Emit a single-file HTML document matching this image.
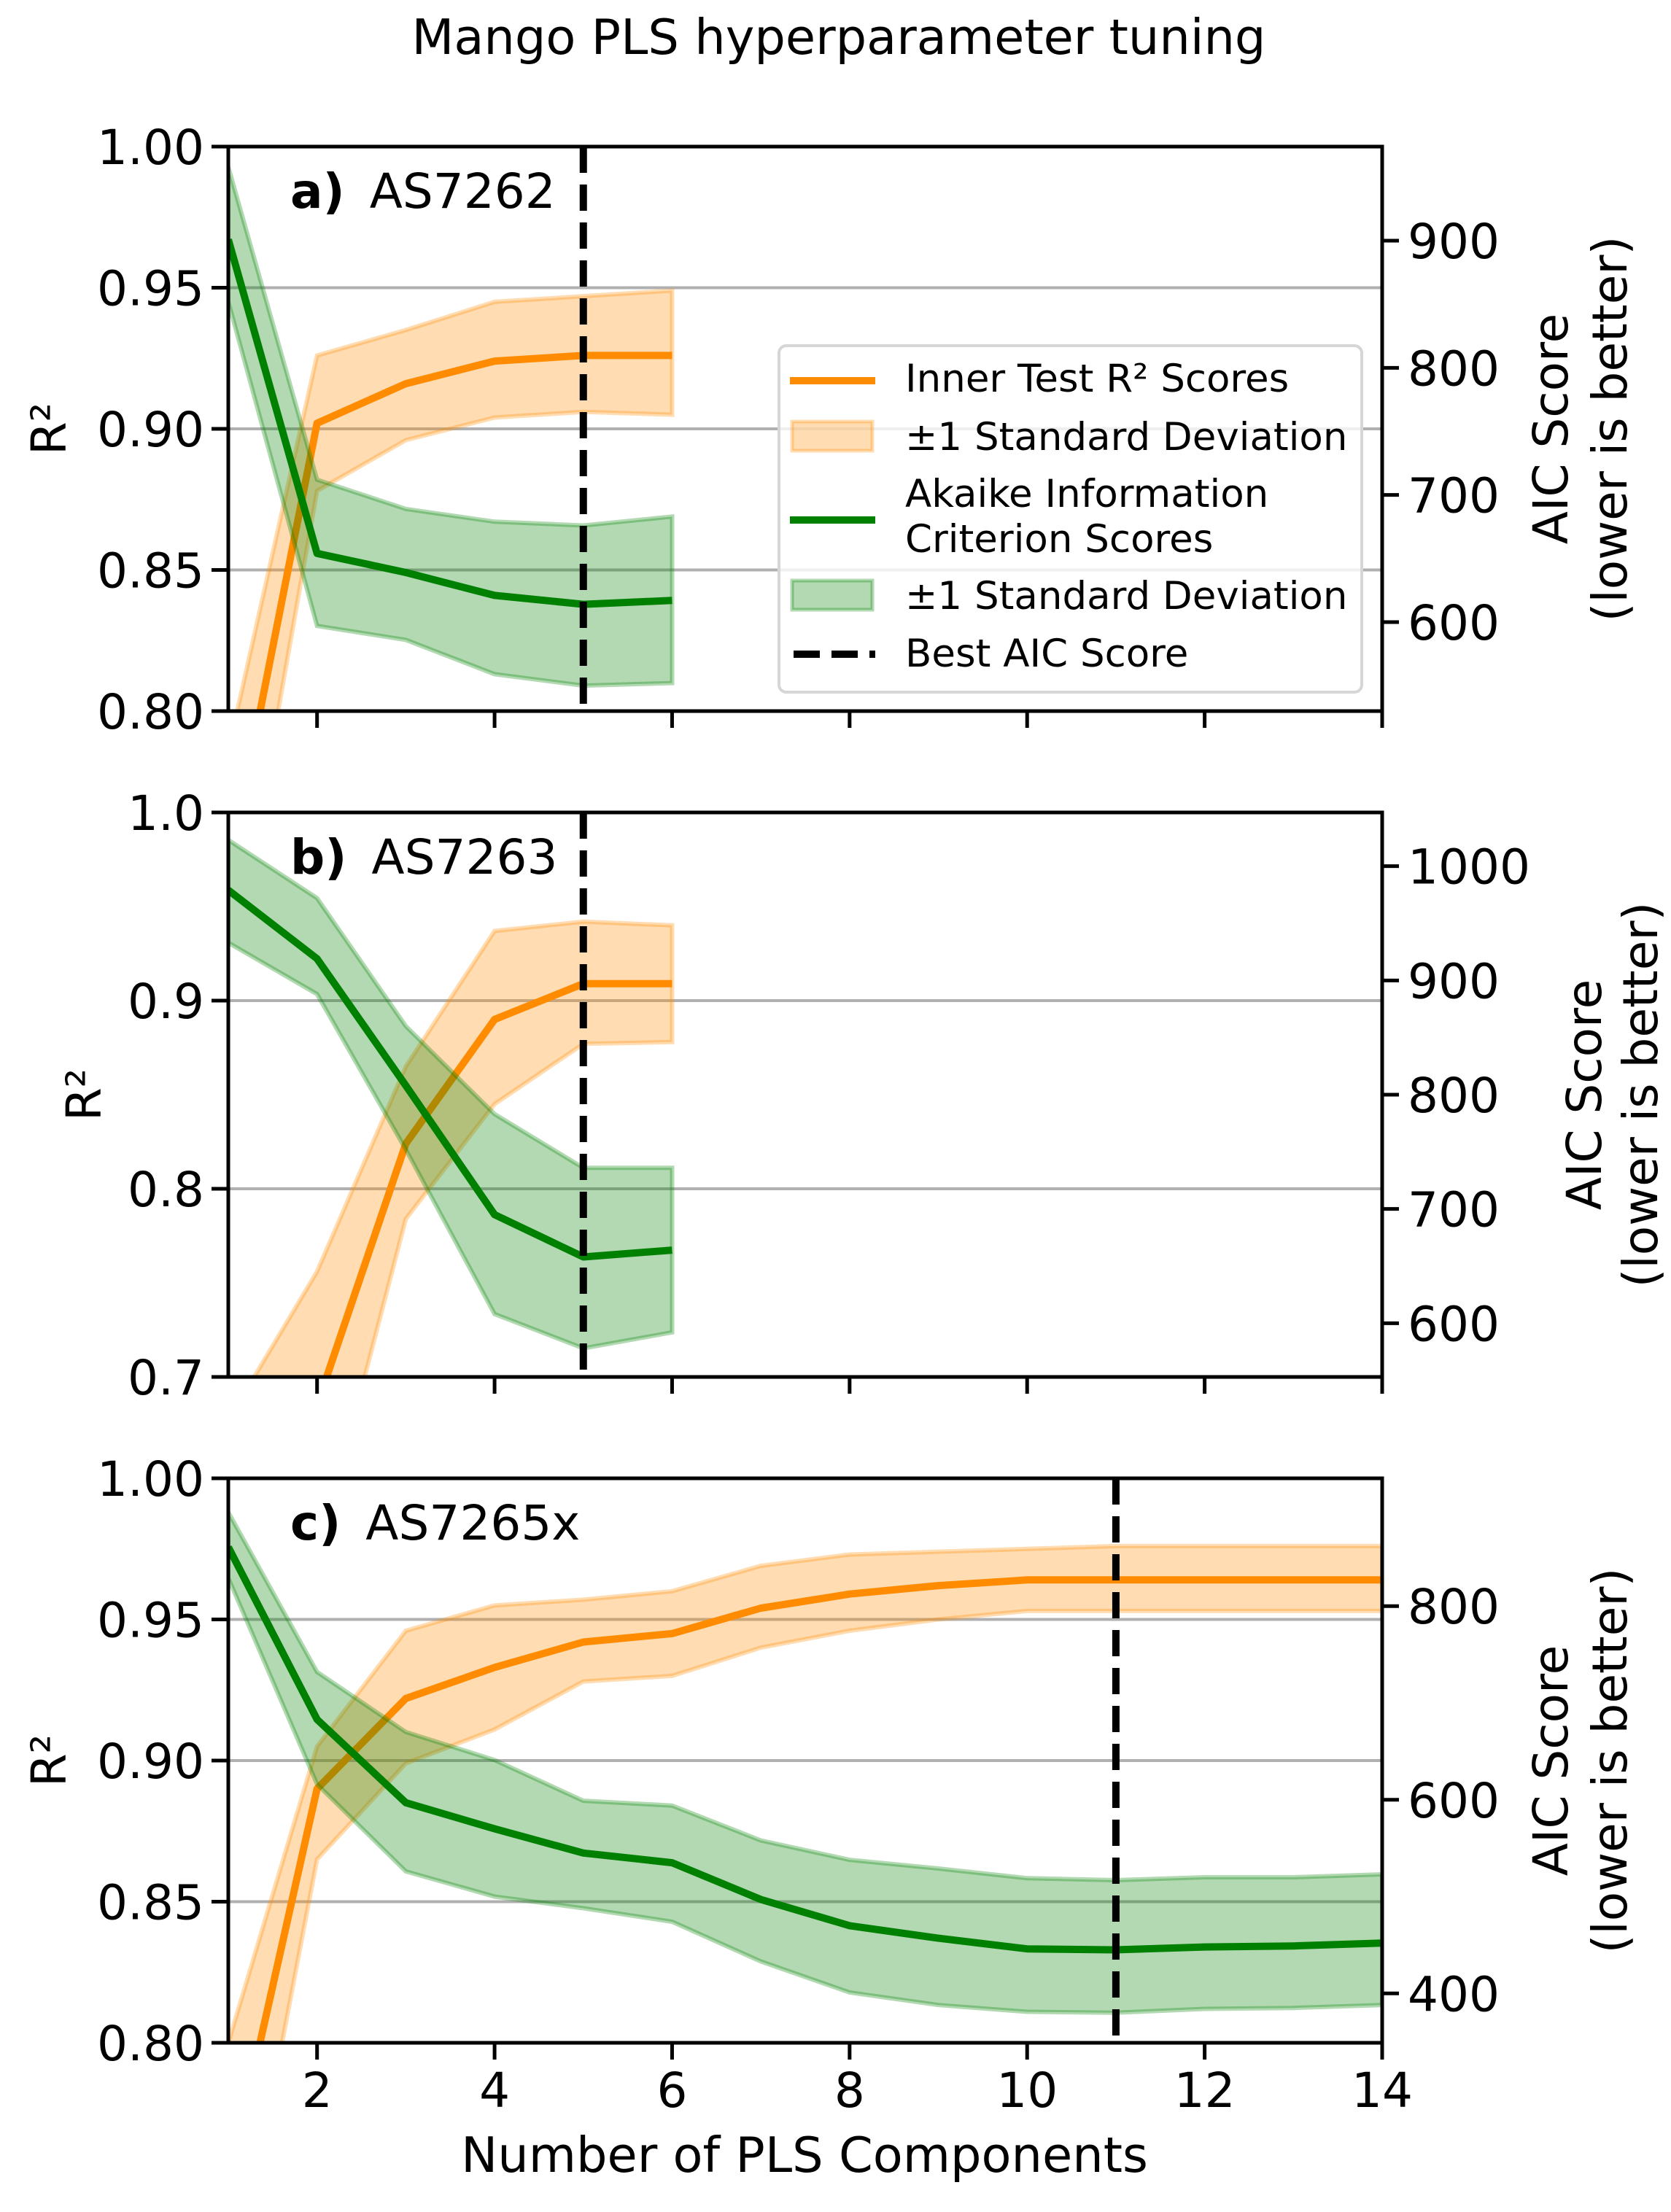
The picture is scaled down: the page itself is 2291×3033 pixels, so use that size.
<!DOCTYPE html>
<html><head><meta charset="utf-8"><style>
html,body{margin:0;padding:0;background:#fff;width:2291px;height:3033px;overflow:hidden}
svg{display:block}
text{font-family:"DejaVu Sans","Liberation Sans",sans-serif;fill:#000}
</style></head>
<body>
<svg id="fig" xmlns="http://www.w3.org/2000/svg" width="2291" height="3033" viewBox="0 0 2291 3033">
<rect width="2291" height="3033" fill="#fff"/>
<text x="1150" y="74" font-size="67" text-anchor="middle">Mango PLS hyperparameter tuning</text>
<g id="panels"></g>
<g id="legend">
  <rect x="1068" y="474" width="799" height="475" rx="10" fill="#fff" fill-opacity="0.8" stroke="#d6d6d6" stroke-width="4"/>
  <line x1="1083" y1="522" x2="1200" y2="522" stroke="#ff8c00" stroke-width="10"/>
  <text x="1241" y="537" font-size="53">Inner Test R² Scores</text>
  <rect x="1086" y="578" width="110" height="40" fill="#ff8c00" fill-opacity="0.3" stroke="#ff8c00" stroke-opacity="0.3" stroke-width="5"/>
  <text x="1241" y="617" font-size="53">±1 Standard Deviation</text>
  <line x1="1083" y1="713" x2="1200" y2="713" stroke="#008000" stroke-width="10"/>
  <text x="1241" y="695" font-size="53">Akaike Information</text>
  <text x="1241" y="757" font-size="53">Criterion Scores</text>
  <rect x="1086" y="796" width="110" height="40" fill="#008000" fill-opacity="0.3" stroke="#008000" stroke-opacity="0.3" stroke-width="5"/>
  <text x="1241" y="835" font-size="53">±1 Standard Deviation</text>
  <line x1="1088" y1="897" x2="1200" y2="897" stroke="#000" stroke-width="10" stroke-dasharray="36,16"/>
  <text x="1241" y="914" font-size="53">Best AIC Score</text>
</g>
<text x="1103" y="2978" font-size="67" text-anchor="middle">Number of PLS Components</text>
</svg>
<script>
// ---- data ----
const xA = [1,2,3,4,5,6];
const r2A = [0.743,0.902,0.916,0.924,0.926,0.926];
const r2A_hi = [0.786,0.926,0.935,0.945,0.947,0.949];
const r2A_lo = [0.700,0.878,0.896,0.904,0.906,0.905];
const aicA = [901,654,639,621,614,617];
const aicA_hi = [958,712,689,679,676,683];
const aicA_lo = [852,597,586,559,550,552];
const bestA = 5;

const xB = [1,2,3,4,5,6];
const r2B = [0.546,0.685,0.824,0.890,0.909,0.909];
const r2B_hi = [0.677,0.756,0.865,0.937,0.942,0.940];
const r2B_lo = [0.420,0.603,0.784,0.845,0.877,0.878];
const aicB = [979,919,808,695,658,664];
const aicB_hi = [1023,972,860,783,736,736];
const aicB_lo = [933,888,752,608,578,592];
const bestB = 5;

const xC = [1,2,3,4,5,6,7,8,9,10,11,12,13,14];
const r2C = [0.750,0.890,0.922,0.933,0.942,0.945,0.954,0.959,0.962,0.964,0.964,0.964,0.964,0.964];
const r2C_hi = [0.800,0.905,0.946,0.955,0.957,0.960,0.969,0.973,0.974,0.975,0.976,0.976,0.976,0.976];
const r2C_lo = [0.700,0.865,0.899,0.911,0.928,0.930,0.940,0.946,0.950,0.953,0.953,0.953,0.953,0.953];
const aicC = [861,683,597,570,545,535,497,470,457,446,445,448,449,452];
const aicC_hi = [897,732,670,641,599,594,558,538,529,519,517,520,520,523];
const aicC_lo = [829,616,526,500,488,474,433,401,388,381,380,384,385,388];
const bestC = 11;

const xTicks = [2,4,6,8,10,12,14];
const r2TicksA = [0.80,0.85,0.90,0.95,1.00];
const r2TickLabelsA = ["0.80","0.85","0.90","0.95","1.00"];
const r2TicksB = [0.7,0.8,0.9,1.0];
const r2TickLabelsB = ["0.7","0.8","0.9","1.0"];
const aicTicksA = [600,700,800,900];
const aicTicksB = [600,700,800,900,1000];
const aicTicksC = [400,600,800];

// ---- layout ----
const L = 313, R = 1895, H = 774, FS = 66;
const NS = "http://www.w3.org/2000/svg";
const root = document.getElementById('panels');
function mk(tag, attrs, parent){
  const e = document.createElementNS(NS, tag);
  for (const k in attrs) e.setAttribute(k, attrs[k]);
  (parent||root).appendChild(e);
  return e;
}
function pts(xs, ys, fx, fy){ return xs.map((x,i)=>fx(x).toFixed(1)+','+fy(ys[i]).toFixed(1)).join(' '); }

const panels = [
  {id:'a', top:201, label:'a)', name:'AS7262', x:xA, r2:r2A, r2hi:r2A_hi, r2lo:r2A_lo, aic:aicA, aichi:aicA_hi, aiclo:aicA_lo, best:bestA,
   r2min:0.8, r2max:1.0, r2t:r2TicksA, r2l:r2TickLabelsA, amin:530, amax:974, at:aicTicksA, ylx:66, rl1:2125, rl2:2206, xlab:false},
  {id:'b', top:1114, label:'b)', name:'AS7263', x:xB, r2:r2B, r2hi:r2B_hi, r2lo:r2B_lo, aic:aicB, aichi:aicB_hi, aiclo:aicB_lo, best:bestB,
   r2min:0.7, r2max:1.0, r2t:r2TicksB, r2l:r2TickLabelsB, amin:553, amax:1047, at:aicTicksB, ylx:114, rl1:2171, rl2:2248, xlab:false},
  {id:'c', top:2027, label:'c)', name:'AS7265x', x:xC, r2:r2C, r2hi:r2C_hi, r2lo:r2C_lo, aic:aicC, aichi:aicC_hi, aiclo:aicC_lo, best:bestC,
   r2min:0.8, r2max:1.0, r2t:r2TicksA, r2l:r2TickLabelsA, amin:349, amax:932, at:aicTicksC, ylx:66, rl1:2125, rl2:2206, xlab:true}
];

panels.forEach(p=>{
  const T = p.top, B = p.top + H;
  const fx = x => L + (x-1)/(14-1)*(R-L);
  const fy = v => B - (v-p.r2min)/(p.r2max-p.r2min)*H;
  const fa = v => B - (v-p.amin)/(p.amax-p.amin)*H;
  const g = mk('g', {});
  
  
  const cp = mk('clipPath', {id:'clip-'+p.id}, g);
  mk('rect', {x:L, y:T, width:R-L, height:H}, cp);
  p.r2t.forEach(t=>{
    if (Math.abs(t-p.r2min)<1e-9 || Math.abs(t-p.r2max)<1e-9) return;
    const l = mk('line', {x1:L, x2:R, y1:fy(t), y2:fy(t), stroke:'#b0b0b0', 'stroke-width':4}, g);
    
    
  });
  const plot = mk('g', {'clip-path':'url(#clip-'+p.id+')'}, g);
  const ob = mk('polygon', {points: pts(p.x, p.r2hi, fx, fy)+' '+pts(p.x.slice().reverse(), p.r2lo.slice().reverse(), fx, fy),
    fill:'#ff8c00', 'fill-opacity':0.3, stroke:'#ff8c00', 'stroke-opacity':0.3, 'stroke-width':6}, plot);
  
  
  const ol = mk('polyline', {points: pts(p.x, p.r2, fx, fy), fill:'none', stroke:'#ff8c00', 'stroke-width':10, 'stroke-linejoin':'round'}, plot);
  
  
  const gb = mk('polygon', {points: pts(p.x, p.aichi, fx, fa)+' '+pts(p.x.slice().reverse(), p.aiclo.slice().reverse(), fx, fa),
    fill:'#008000', 'fill-opacity':0.3, stroke:'#008000', 'stroke-opacity':0.3, 'stroke-width':6}, plot);
  
  
  const gl = mk('polyline', {points: pts(p.x, p.aic, fx, fa), fill:'none', stroke:'#008000', 'stroke-width':10, 'stroke-linejoin':'round'}, plot);
  
  
  const bl = mk('line', {x1:fx(p.best), x2:fx(p.best), y1:T, y2:B, stroke:'#000', 'stroke-width':10, 'stroke-dasharray':'36,16'}, plot);
  
  
  const fr = mk('rect', {x:L, y:T, width:R-L, height:H, fill:'none', stroke:'#000', 'stroke-width':5}, g);
  
  
  p.r2t.forEach((t,i)=>{
    mk('line', {x1:L-23, x2:L, y1:fy(t), y2:fy(t), stroke:'#000', 'stroke-width':5}, g);
    const tx = mk('text', {x:280, y:fy(t)+24, 'font-size':FS, 'text-anchor':'end'}, g);
    tx.textContent = p.r2l[i];
    
    
  });
  p.at.forEach(t=>{
    mk('line', {x1:R, x2:R+23, y1:fa(t), y2:fa(t), stroke:'#000', 'stroke-width':5}, g);
    const tx = mk('text', {x:1930, y:fa(t)+24, 'font-size':FS}, g);
    tx.textContent = String(t);
    
    
  });
  xTicks.forEach(t=>{
    mk('line', {x1:fx(t), x2:fx(t), y1:B, y2:B+23, stroke:'#000', 'stroke-width':5}, g);
    if (p.xlab){
      const tx = mk('text', {x:fx(t), y:B+88, 'font-size':FS, 'text-anchor':'middle'}, g);
      tx.textContent = String(t);
      
      
    }
  });
  const pl = mk('text', {x:398, y:T+84, 'font-size':FS}, g);
  
  
  const b1 = mk('tspan', {'font-weight':'bold'}, pl); b1.textContent = p.label;
  const b2 = mk('tspan', {dx:34}, pl); b2.textContent = p.name;
  const cy = T + H/2;
  const yl = mk('text', {x:p.ylx, y:cy, 'font-size':FS, 'text-anchor':'middle', transform:'rotate(-90 '+p.ylx+' '+cy+')', dy:24}, g);
  yl.textContent = 'R²';
  
  
  const r1 = mk('text', {x:p.rl1, y:cy, 'font-size':FS, 'text-anchor':'middle', transform:'rotate(-90 '+p.rl1+' '+cy+')', dy:24}, g);
  r1.textContent = 'AIC Score';
  
  
  const r2 = mk('text', {x:p.rl2, y:cy, 'font-size':FS, 'text-anchor':'middle', transform:'rotate(-90 '+p.rl2+' '+cy+')', dy:24}, g);
  r2.textContent = '(lower is better)';
  
  
});
document.getElementById('fig').appendChild(document.getElementById('legend'));
</script>
</body></html>
